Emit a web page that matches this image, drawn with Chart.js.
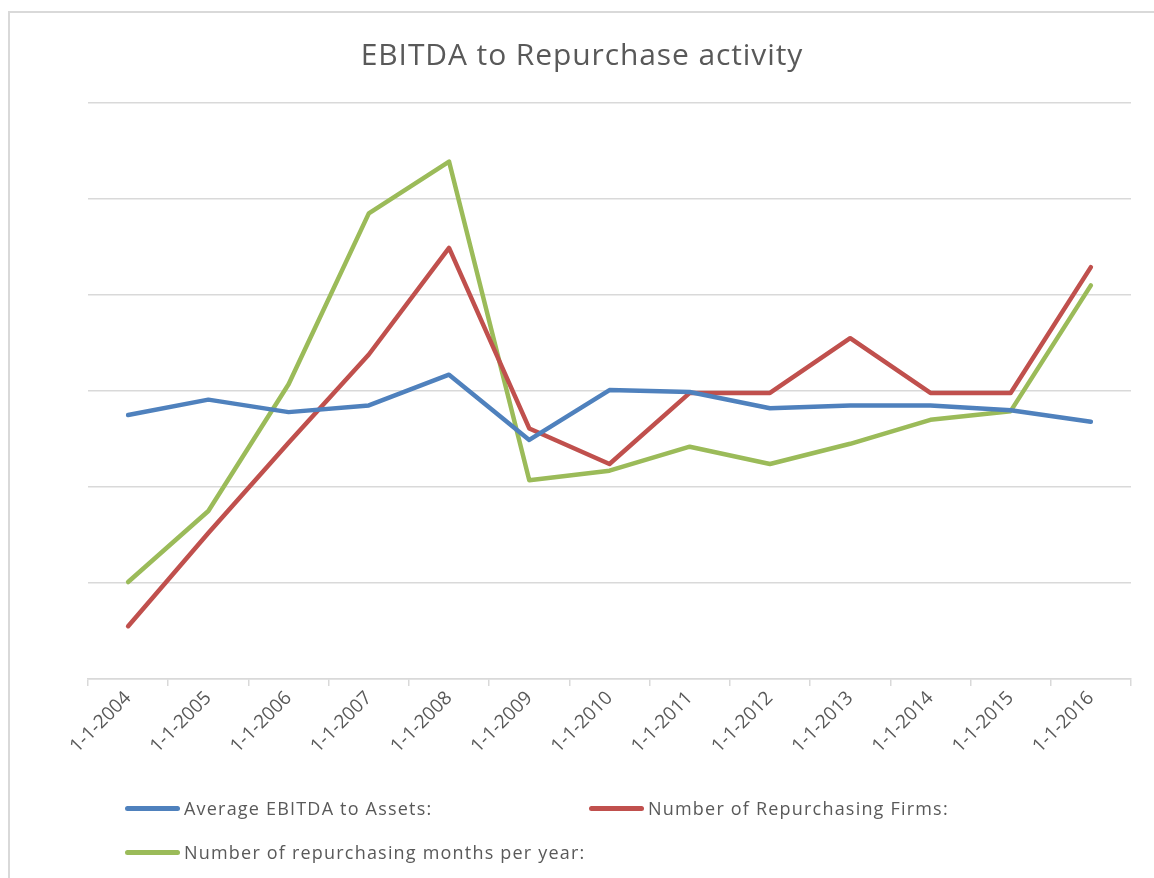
<!DOCTYPE html>
<html>
<head>
<meta charset="utf-8">
<script src="https://cdn.jsdelivr.net/npm/chart.js@4/dist/chart.umd.min.js"></script>
<style>
  html, body { margin: 0; padding: 0; background: #fff; overflow: hidden; }
  #wrap { position: relative; width: 1154px; height: 878px; }
  #frame { position: absolute; left: 8px; top: 11px; width: 1300px; height: 1000px; border: 2px solid #d9d9d9; box-sizing: border-box; }
  canvas { position: absolute; left: 0; top: 0; }
  #title { position: absolute; left: 0; width: 1164px; top: 34px; height: 40px; line-height: 40px; text-align: center; font-family: "Open Sans", sans-serif; font-size: 30px; letter-spacing: 0.9px; color: #595959; }
  .leg { position: absolute; font-family: "Open Sans", sans-serif; font-size: 18px; letter-spacing: 1.2px; color: #595959; white-space: nowrap; display: flex; align-items: center; }
  .leg span.sw { display: inline-block; width: 55px; height: 5px; border-radius: 3px; margin-right: 4px; }
</style>
</head>
<body>
<div id="wrap">
  <div id="frame"></div>
  <canvas id="c" width="1154" height="878"></canvas>
  <div id="title">EBITDA to Repurchase activity</div>
  <div id="legend"></div>
</div>
<script>
const categories = ["1-1-2004","1-1-2005","1-1-2006","1-1-2007","1-1-2008","1-1-2009","1-1-2010","1-1-2011","1-1-2012","1-1-2013","1-1-2014","1-1-2015","1-1-2016"];
const ebitdaToAssets = [2.75, 2.91, 2.78, 2.85, 3.17, 2.49, 3.01, 2.99, 2.82, 2.85, 2.85, 2.80, 2.68];
const repurchasingFirms = [0.55, 1.52, 2.46, 3.38, 4.49, 2.61, 2.24, 2.98, 2.98, 3.55, 2.98, 2.98, 4.29];
const repurchasingMonths = [1.01, 1.75, 3.07, 4.85, 5.39, 2.07, 2.17, 2.42, 2.24, 2.45, 2.70, 2.79, 4.10];
const seriesNames = ["Average EBITDA to Assets:", "Number of Repurchasing Firms:", "Number of repurchasing months per year:"];
const seriesColors = ["#4F81BD", "#C0504D", "#9BBB59"];

const datasets = [ebitdaToAssets, repurchasingFirms, repurchasingMonths].map((d, i) => ({
  label: seriesNames[i],
  data: d,
  borderColor: seriesColors[i],
  backgroundColor: seriesColors[i],
  borderWidth: 4.5,
  pointRadius: 0,
  tension: 0,
  fill: false,
  borderCapStyle: 'round',
  borderJoinStyle: 'round'
}));

new Chart(document.getElementById('c'), {
  type: 'line',
  data: { labels: categories, datasets },
  options: {
    responsive: false,
    animation: false,
    devicePixelRatio: 1,
    layout: { padding: { left: 88, right: 23, top: 103, bottom: 0 } },
    plugins: {
      legend: { display: false },
      tooltip: { enabled: false },
      title: { display: false }
    },
    scales: {
      x: {
        offset: true,
        grid: { offset: true, drawOnChartArea: false, drawTicks: true, tickLength: 7, color: "#d9d9d9", lineWidth: 1.5 },
        border: { color: "#d9d9d9", width: 1.5 },
        ticks: { color: "#595959", font: { family: "Open Sans", size: 19 }, minRotation: 45, maxRotation: 45, padding: 1, autoSkip: false },
        afterFit: (s) => { s.height = 199; }
      },
      y: {
        min: 0, max: 6,
        ticks: { display: false, stepSize: 1 },
        grid: { drawTicks: false, color: "#d9d9d9", lineWidth: 1.5 },
        border: { display: false },
        afterFit: (s) => { s.width = 0; }
      }
    }
  }
});

const legendItems = [
  { i: 0, left: 125, top: 808 },
  { i: 1, left: 589, top: 808 },
  { i: 2, left: 125, top: 852 }
];
const legEl = document.getElementById('legend');
legendItems.forEach(it => {
  const d = document.createElement('div');
  d.className = 'leg';
  d.style.left = it.left + 'px';
  d.style.top = (it.top - 12) + 'px';
  d.style.height = '24px';
  const sw = document.createElement('span');
  sw.className = 'sw';
  sw.style.background = seriesColors[it.i];
  const t = document.createElement('span');
  t.textContent = seriesNames[it.i];
  d.appendChild(sw); d.appendChild(t);
  legEl.appendChild(d);
});
</script>
</body>
</html>
